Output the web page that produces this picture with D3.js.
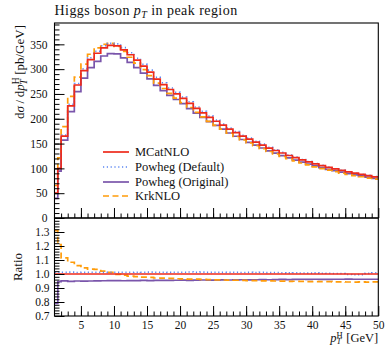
<!DOCTYPE html>
<html>
<head>
<meta charset="utf-8">
<script src="https://cdn.jsdelivr.net/npm/d3@7"></script>
<style>
  html, body { margin: 0; padding: 0; background: #fff; }
  svg { display: block; }
  text { font-family: "Liberation Serif", "DejaVu Serif", serif; fill: #111; }
</style>
</head>
<body>
<svg id="chart" width="385" height="345"></svg>
<script>
// Bin edges of the Higgs pT histogram [GeV]
const binEdges = [1, 1.5, 2, 3, 4, 5, 6, 7, 8, 9, 10, 11, 12, 13, 14, 15, 16, 17, 18, 19, 20,
  21, 22, 23, 24, 25, 26, 27, 28, 29, 30, 31, 32, 33, 34, 35, 36, 37, 38, 39, 40,
  41, 42, 43, 44, 45, 46, 47, 48, 49, 50];

// dσ/dpT [pb/GeV] per bin
const mcatnlo = [50, 100, 165, 226, 268, 297, 319, 332, 343, 348, 347, 339, 329, 318, 306, 294,
  280, 269, 259, 250, 241, 231, 221, 212, 203, 195, 187, 179, 172, 165, 159, 153, 147, 141,
  136, 131, 126, 121.5, 117, 113, 109, 105.5, 102, 99, 96, 93, 90.5, 88, 85.5, 83];

const powhegDefault = [50.5, 101, 167, 229, 271, 300.5, 323, 336, 347, 352, 351, 343.4, 333,
  322, 309.7, 298, 283.4, 272.5, 262, 253.2, 243.9, 234.2, 223.7, 214.8, 205.4, 197.5, 189.2,
  181.1, 174.2, 166.8, 160.9, 154.7, 148.8, 142.4, 137.4, 132.2, 127, 122.6, 117.8, 113.7,
  109.9, 106.1, 102.5, 99.4, 96.3, 92.7, 90, 87.6, 85.9, 83.7];

const powhegOriginal = [39.5, 94.5, 156.8, 214.2, 254.6, 281.9, 303, 315.7, 326.5, 331.3,
  330.7, 322.7, 313.5, 303, 291.9, 280.2, 267.1, 256.9, 247.1, 238.8, 230.4, 220.6, 211.3,
  202.9, 194.1, 186.6, 179.1, 171.3, 164.8, 158.2, 152.3, 146.7, 141.1, 135.2, 130.6, 125.9,
  121, 116.8, 112.6, 108.6, 104.9, 101.4, 98.1, 95.3, 92.4, 89.6, 87.1, 84.7, 82.3, 79.9];

const krknlo = [65.5, 121, 184, 245, 284, 310, 330, 343, 350, 352, 346, 336, 324, 312, 299,
  287, 272, 261, 251, 241.5, 232.5, 222.7, 212.8, 204, 194.9, 186.8, 179, 171.1, 164.3, 157.4,
  151.5, 145.7, 139.8, 134, 129.2, 124.3, 119.4, 115.2, 110.8, 106.9, 103.1, 99.7, 96.4, 93.5,
  90.6, 87.7, 85.3, 83.1, 80.5, 78.3];

const seriesNames = ["MCatNLO", "Powheg (Default)", "Powheg (Original)", "KrkNLO"];

const mainTicks = [0, 50, 100, 150, 200, 250, 300, 350];
const ratioTicks = [0.7, 0.8, 0.9, 1.0, 1.1, 1.2, 1.3];
const xTicks = [5, 10, 15, 20, 25, 30, 35, 40, 45, 50];

// ---- styles per series ----
const styles = [
  { color: "#ee2a1b", width: 1.7, dash: null },
  { color: "#5b86f2", width: 1.6, dash: "1.2,2.6" },
  { color: "#7a55ab", width: 1.7, dash: null },
  { color: "#ff9c0a", width: 1.7, dash: "6,3.5" }
];
const allSeries = [mcatnlo, powhegDefault, powhegOriginal, krknlo];

// ---- layout ----
const left = 54.5, right = 378.3;
const mainTop = 23, mainBottom = 218;
const ratioTop = 218, ratioBottom = 316;

const svg = d3.select("#chart");

const x = d3.scaleLinear().domain([1, 50]).range([left, right]);
const yMain = d3.scaleLinear().domain([0, 393]).range([mainBottom, mainTop]);
const yRatio = d3.scaleLinear().domain([0.7, 1.4]).range([ratioBottom, ratioTop]);

// clip regions
const defs = svg.append("defs");
defs.append("clipPath").attr("id", "clipMain").append("rect")
  .attr("x", left).attr("y", mainTop).attr("width", right - left).attr("height", mainBottom - mainTop);
defs.append("clipPath").attr("id", "clipRatio").append("rect")
  .attr("x", left).attr("y", ratioTop).attr("width", right - left).attr("height", ratioBottom - ratioTop);

// step outline through all bins
function stepPoints(values) {
  const pts = [];
  values.forEach((v, i) => {
    pts.push([binEdges[i], v]);
    pts.push([binEdges[i + 1], v]);
  });
  return pts;
}

const lineMain = d3.line().x(d => x(d[0])).y(d => yMain(d[1]));
const lineRatio = d3.line().x(d => x(d[0])).y(d => yRatio(d[1]));

// ---- main panel curves ----
const gMain = svg.append("g").attr("clip-path", "url(#clipMain)");
const drawOrder = [2, 3, 1, 0];
drawOrder.forEach(k => {
  gMain.append("path")
    .attr("d", lineMain(stepPoints(allSeries[k])))
    .attr("fill", "none")
    .attr("stroke", styles[k].color)
    .attr("stroke-width", styles[k].width)
    .attr("stroke-dasharray", styles[k].dash)
    .attr("stroke-linejoin", "miter");
});

// ---- ratio panel curves (relative to MCatNLO) ----
const gRatio = svg.append("g").attr("clip-path", "url(#clipRatio)");
drawOrder.forEach(k => {
  const ratio = allSeries[k].map((v, i) => v / mcatnlo[i]);
  gRatio.append("path")
    .attr("d", lineRatio(stepPoints(ratio)))
    .attr("fill", "none")
    .attr("stroke", styles[k].color)
    .attr("stroke-width", styles[k].width)
    .attr("stroke-dasharray", styles[k].dash);
});

// ---- axes ----
function styleAxis(g) {
  g.select(".domain").remove();
  g.selectAll(".tick line").attr("stroke", "#000").attr("stroke-width", 1);
  g.selectAll(".tick text")
    .style("font-family", '"Liberation Serif", "DejaVu Serif", serif')
    .style("font-size", "11.5px").attr("fill", "#111");
}

const minorMain = d3.range(0, 393, 10);
svg.append("g").attr("transform", `translate(${left},0)`)
  .call(d3.axisLeft(yMain).tickValues(minorMain).tickSize(-5).tickFormat(""))
  .call(styleAxis);
svg.append("g").attr("transform", `translate(${left},0)`)
  .call(d3.axisLeft(yMain).tickValues(mainTicks).tickSize(-10).tickPadding(7).tickFormat(d3.format("d")))
  .call(styleAxis);

const minorRatio = d3.range(0.72, 1.4, 0.02);
svg.append("g").attr("transform", `translate(${left},0)`)
  .call(d3.axisLeft(yRatio).tickValues(minorRatio).tickSize(-5).tickFormat(""))
  .call(styleAxis);
svg.append("g").attr("transform", `translate(${left},0)`)
  .call(d3.axisLeft(yRatio).tickValues(ratioTicks).tickSize(-10).tickPadding(5).tickFormat(d3.format(".1f")))
  .call(styleAxis);

const minorX = d3.range(2, 50, 1);
[mainBottom, ratioBottom].forEach((yy, idx) => {
  svg.append("g").attr("transform", `translate(0,${yy})`)
    .call(d3.axisBottom(x).tickValues(minorX).tickSize(-4.5).tickFormat(""))
    .call(styleAxis);
  svg.append("g").attr("transform", `translate(0,${yy})`)
    .call(d3.axisBottom(x).tickValues(xTicks).tickSize(-10).tickPadding(5)
      .tickFormat(idx === 1 ? d3.format("d") : ""))
    .call(styleAxis);
});

// frames
svg.append("rect").attr("x", left).attr("y", mainTop)
  .attr("width", right - left).attr("height", mainBottom - mainTop)
  .attr("fill", "none").attr("stroke", "#000").attr("stroke-width", 1.1);
svg.append("rect").attr("x", left).attr("y", ratioTop)
  .attr("width", right - left).attr("height", ratioBottom - ratioTop)
  .attr("fill", "none").attr("stroke", "#000").attr("stroke-width", 1.1);

// ---- title ----
const title = svg.append("text").attr("x", left).attr("y", 15)
  .style("font-size", "14px").style("letter-spacing", "0.45px");
title.append("tspan").text("Higgs boson ");
title.append("tspan").style("font-style", "italic").text("p");
title.append("tspan").style("font-style", "italic").style("font-size", "10px").attr("dy", 3).text("T");
title.append("tspan").attr("dy", -3).text(" in peak region");

// ---- y axis label (main), aligned to the top of the panel ----
const yl = svg.append("text")
  .attr("transform", `translate(24,${mainTop + 2}) rotate(-90)`)
  .attr("text-anchor", "end").style("font-size", "13px");
yl.append("tspan").text("d");
yl.append("tspan").style("font-style", "italic").text("σ");
yl.append("tspan").text("\u2009/\u2009d");
yl.append("tspan").style("font-style", "italic").text("p");
yl.append("tspan").style("font-size", "9.5px").attr("dy", -5).text("H");
yl.append("tspan").style("font-size", "9.5px").style("font-style", "italic").attr("dy", 8).attr("dx", -7).text("T");
yl.append("tspan").attr("dy", -3).attr("dx", 1).text(" [pb/GeV]");

// ---- ratio label ----
svg.append("text")
  .attr("transform", `translate(22,${(ratioTop + ratioBottom) / 2}) rotate(-90)`)
  .attr("text-anchor", "middle").style("font-size", "13px").text("Ratio");

// ---- x axis label ----
const xl = svg.append("text").attr("x", right).attr("y", 341.5).attr("text-anchor", "end").style("font-size", "12.5px");
xl.append("tspan").style("font-style", "italic").text("p");
xl.append("tspan").style("font-size", "8.5px").attr("dy", -4).text("H");
xl.append("tspan").style("font-size", "8.5px").style("font-style", "italic").attr("dy", 6.5).attr("dx", -6.2).text("T");
xl.append("tspan").attr("dy", -2.5).attr("dx", 2).text(" [GeV]");

// ---- legend ----
const legend = svg.append("g");
const legendRows = [152, 167, 182, 196];
seriesNames.forEach((name, k) => {
  const yy = legendRows[k];
  legend.append("line")
    .attr("x1", 103).attr("x2", 129).attr("y1", yy).attr("y2", yy)
    .attr("stroke", styles[k].color).attr("stroke-width", styles[k].width)
    .attr("stroke-dasharray", styles[k].dash);
  legend.append("text").attr("x", 135).attr("y", yy + 4)
    .style("font-size", "12.5px").text(name);
});
</script>
</body>
</html>
